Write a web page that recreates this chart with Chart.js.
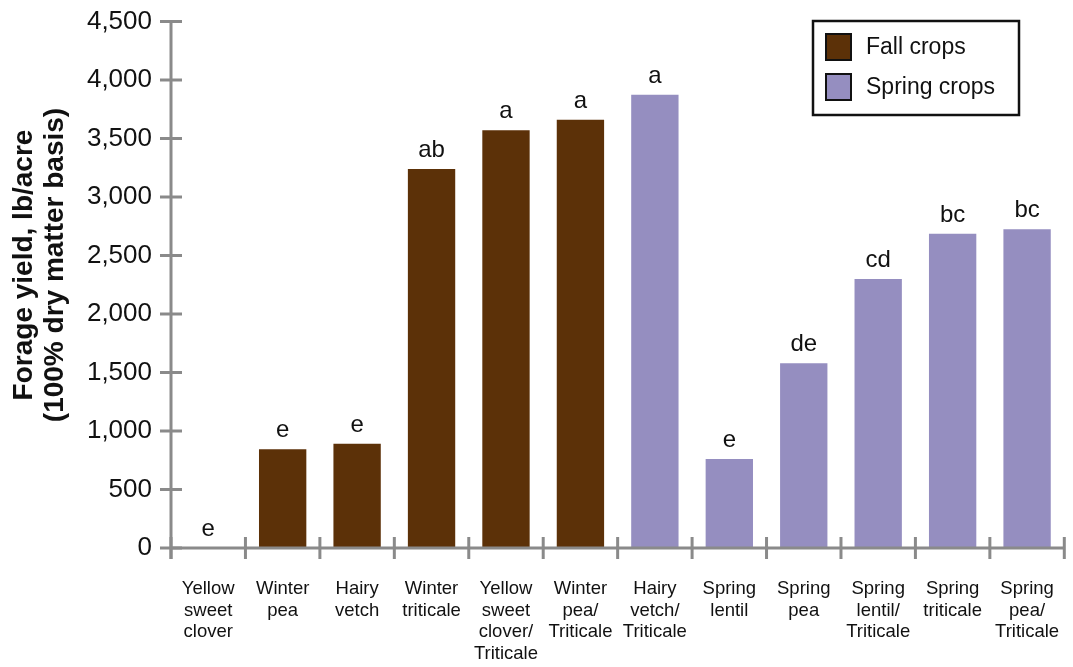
<!DOCTYPE html>
<html>
<head>
<meta charset="utf-8">
<script src="https://cdn.jsdelivr.net/npm/chart.js@4"></script>
<style>
  html, body { margin: 0; padding: 0; background: #fff; }
  #wrap { width: 1073px; height: 667px; }
</style>
</head>
<body>
<div id="wrap"><canvas id="c" width="1073" height="667"></canvas></div>
<script>
// Crop names (multi-line category labels)
const categories = [
  ["Yellow", "sweet", "clover"],
  ["Winter", "pea"],
  ["Hairy", "vetch"],
  ["Winter", "triticale"],
  ["Yellow", "sweet", "clover/", "Triticale"],
  ["Winter", "pea/", "Triticale"],
  ["Hairy", "vetch/", "Triticale"],
  ["Spring", "lentil"],
  ["Spring", "pea"],
  ["Spring", "lentil/", "Triticale"],
  ["Spring", "triticale"],
  ["Spring", "pea/", "Triticale"]
];

// Forage yield, lb/acre (100% dry matter basis)
const fallCrops   = [0, 845, 890, 3240, 3570, 3660, null, null, null, null, null, null];
const springCrops = [null, null, null, null, null, null, 3875, 760, 1580, 2300, 2685, 2725];

// Mean separation letters
const sigLetters = ["e", "e", "e", "ab", "a", "a", "a", "e", "de", "cd", "bc", "bc"];

const yTicks = [0, 500, 1000, 1500, 2000, 2500, 3000, 3500, 4000, 4500];

const FALL_COLOR = "#5c3108";
const SPRING_COLOR = "#958ec0";
const AXIS_COLOR = "#8a8a8a";
const FONT = "'Liberation Sans', Arial, Helvetica, sans-serif";

// Axis lines with ticks that cross the axis, letters over bars, axis title and boxed legend
const decorations = {
  id: "decorations",
  afterDatasetsDraw(chart) {
    const ctx = chart.ctx;
    const x = chart.scales.x;
    const y = chart.scales.y;
    const top = y.getPixelForValue(yTicks[yTicks.length - 1]);
    const zero = y.getPixelForValue(0);
    const step = x.getPixelForValue(1) - x.getPixelForValue(0);
    const axisX = x.getPixelForValue(0) - step / 2;
    const axisEnd = x.getPixelForValue(categories.length - 1) + step / 2;
    const half = 11;

    ctx.save();
    ctx.strokeStyle = AXIS_COLOR;
    ctx.lineWidth = 3;
    ctx.lineCap = "butt";

    // y axis line
    ctx.beginPath();
    ctx.moveTo(axisX, top);
    ctx.lineTo(axisX, zero + half);
    ctx.stroke();

    // y ticks
    yTicks.forEach(v => {
      const py = y.getPixelForValue(v);
      ctx.beginPath();
      ctx.moveTo(axisX - half, py);
      ctx.lineTo(axisX + half, py);
      ctx.stroke();
    });

    // x axis line
    ctx.beginPath();
    ctx.moveTo(axisX, zero);
    ctx.lineTo(axisEnd, zero);
    ctx.stroke();

    // category boundary ticks
    for (let i = 0; i <= categories.length; i++) {
      const px = axisX + i * step;
      ctx.beginPath();
      ctx.moveTo(px, zero - half);
      ctx.lineTo(px, zero + half);
      ctx.stroke();
    }

    // letters above bars
    ctx.fillStyle = "#111";
    ctx.font = "24px " + FONT;
    ctx.textAlign = "center";
    ctx.textBaseline = "alphabetic";
    chart.data.datasets.forEach((ds, di) => {
      const meta = chart.getDatasetMeta(di);
      meta.data.forEach((bar, i) => {
        if (ds.data[i] === null || ds.data[i] === undefined) return;
        ctx.fillText(sigLetters[i], bar.x, bar.y - 12);
      });
    });

    // y axis title
    ctx.save();
    ctx.translate(0, 265);
    ctx.rotate(-Math.PI / 2);
    ctx.font = "bold 28px " + FONT;
    ctx.textAlign = "center";
    ctx.textBaseline = "middle";
    ctx.fillStyle = "#111";
    ctx.fillText("Forage yield, lb/acre", 0, 24);
    ctx.fillText("(100% dry matter basis)", 0, 55);
    ctx.restore();

    // legend
    const lx = 813, ly = 21, lw = 206, lh = 94;
    ctx.fillStyle = "#fff";
    ctx.fillRect(lx, ly, lw, lh);
    ctx.strokeStyle = "#111";
    ctx.lineWidth = 2.5;
    ctx.strokeRect(lx, ly, lw, lh);
    const items = chart.data.datasets.map(d => ({ label: d.label, color: d.backgroundColor }));
    items.forEach((it, k) => {
      const sy = 34 + k * 40;
      ctx.fillStyle = it.color;
      ctx.fillRect(826, sy, 25, 26);
      ctx.strokeStyle = "#111";
      ctx.lineWidth = 2;
      ctx.strokeRect(826, sy, 25, 26);
      ctx.fillStyle = "#111";
      ctx.font = "23px " + FONT;
      ctx.textAlign = "left";
      ctx.textBaseline = "middle";
      ctx.fillText(it.label, 866, sy + 14);
    });
    ctx.restore();
  }
};

new Chart(document.getElementById("c"), {
  type: "bar",
  data: {
    labels: categories,
    datasets: [
      { label: "Fall crops", data: fallCrops, backgroundColor: FALL_COLOR },
      { label: "Spring crops", data: springCrops, backgroundColor: SPRING_COLOR }
    ]
  },
  options: {
    responsive: false,
    devicePixelRatio: 1,
    animation: false,
    layout: { padding: { top: 21.5, right: 8.7, left: 0, bottom: 0 } },
    datasets: { bar: { categoryPercentage: 1, barPercentage: 0.636 } },
    plugins: { legend: { display: false }, tooltip: { enabled: false } },
    scales: {
      x: {
        stacked: true,
        grid: { display: false },
        border: { display: false },
        ticks: {
          autoSkip: false,
          maxRotation: 0,
          minRotation: 0,
          padding: 22,
          color: "#111",
          font: { family: FONT, size: 18.5, lineHeight: 1.17 }
        },
        afterFit(scale) {
          scale.height = 119;
          scale.paddingLeft = 0;
          scale.paddingRight = 0;
        }
      },
      y: {
        stacked: true,
        min: 0,
        max: 4500,
        grid: { display: false },
        border: { display: false },
        ticks: {
          stepSize: 500,
          padding: 11,
          color: "#111",
          font: { family: FONT, size: 26 },
          callback: v => v.toLocaleString("en-US")
        },
        afterFit(scale) {
          scale.width = 171;
          scale.paddingTop = 0;
          scale.paddingBottom = 0;
        }
      }
    }
  },
  plugins: [decorations]
});
</script>
</body>
</html>
